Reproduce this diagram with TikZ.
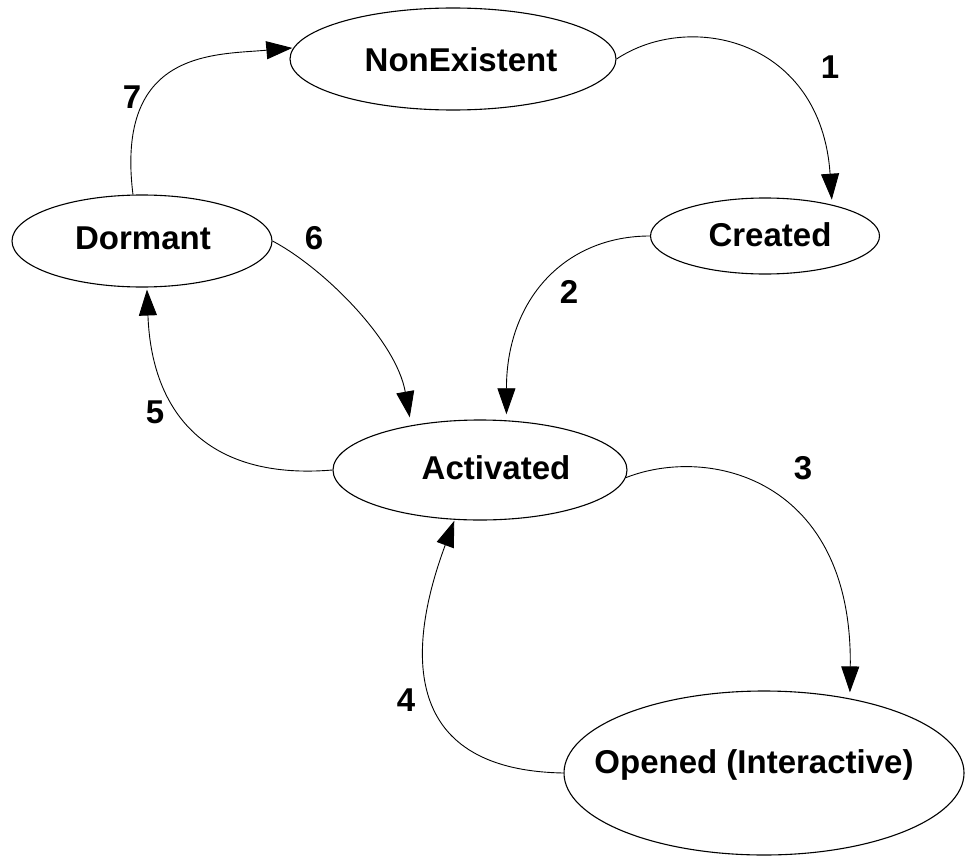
\documentclass[tikz,border=0pt]{standalone}
\usepackage{fontspec}
\setmainfont{Liberation Sans}
\usetikzlibrary{shapes.geometric,arrows.meta}
\begin{document}
\begin{tikzpicture}[x=1pt,y=-1pt,
  every node/.style={font=\fontsize{33}{40}\selectfont\bfseries, inner sep=0pt},
  state/.style={ellipse, draw=black, line width=1.1pt},
  lbl/.style={font=\fontsize{33}{40}\selectfont\bfseries},
  trans/.style={line width=0.9pt, -{Triangle[length=26pt,width=18pt]}},
]
\useasboundingbox (0,0) rectangle (968,856);

% states
\node[state, minimum width=326pt, minimum height=102pt,
      label={[lbl, xshift=8pt, yshift=-1pt]center:NonExistent}] (ne) at (453,59) {};
\node[state, minimum width=229pt, minimum height=76pt,
      label={[lbl, xshift=5pt, yshift=1pt]center:Created}] (cr) at (765,236) {};
\node[state, minimum width=260pt, minimum height=92pt,
      label={[lbl, xshift=1pt, yshift=3pt]center:Dormant}] (dor) at (142,241) {};
\node[state, minimum width=294pt, minimum height=100pt,
      label={[lbl, xshift=16pt, yshift=2pt]center:Activated}] (act) at (480,470) {};
\node[state, minimum width=400pt, minimum height=164pt,
      label={[lbl, xshift=-10pt, yshift=8pt]center:Opened (Interactive)}] (op) at (764,773) {};

% transitions
\draw[trans, shorten >=5pt] (ne.east) .. controls +(74,-49) and +(-11,-165) .. (cr.25);
\draw[trans, shorten >=6pt] (cr.west) .. controls +(-85,0) and +(0,-121) .. (act.62);
\draw[trans, shorten >=6pt] (act.-3) .. controls +(84,-33) and +(3,-219) .. (op.41.5);
\draw[trans, shorten >=1pt] (op.west) .. controls +(-169,-3) and +(-45,121) .. (act.243);
\draw[trans, shorten >=2pt] (act.west) .. controls +(-118,10) and +(5,133) .. (dor.276);
\draw[trans, shorten >=8pt] (dor.east) .. controls +(51,27) and +(-15,-85) .. (act.147);
\draw[trans, shorten >=1pt] (dor.101) .. controls +(-18,-145) and +(-79,7) .. (ne.176);

% transition numbers
\node (l1) at (830,67) {1};
\node (l2) at (569,292) {2};
\node (l3) at (803,468) {3};
\node (l4) at (406,700) {4};
\node (l5) at (155,412) {5};
\node (l6) at (314,238) {6};
\node (l7) at (132,97) {7};
\end{tikzpicture}
\end{document}
